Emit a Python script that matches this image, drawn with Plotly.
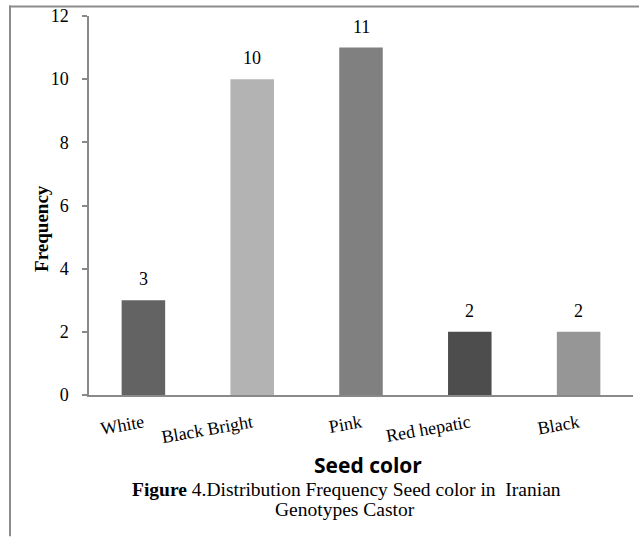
import plotly.graph_objects as go

categories = ["White", "Black Bright", "Pink", "Red hepatic", "Black"]
frequency = [3, 10, 11, 2, 2]
bar_colors = ["#636363", "#b3b3b3", "#808080", "#4d4d4d", "#969696"]
y_ticks = [0, 2, 4, 6, 8, 10, 12]

W, H = 639, 537
L, R, T, B = 89, 6, 14, 142
pw = W - L - R
ph = H - T - B

def px(x):
    return (x - L) / pw

def py(y):
    return (H - B - y) / ph

serif = "Liberation Serif, Times New Roman, serif"

fig = go.Figure()
fig.add_trace(go.Bar(
    x=categories, y=frequency,
    marker=dict(color=bar_colors, line=dict(width=0)),
    width=0.40,
    hoverinfo="x+y",
))

for c, v in zip(categories, frequency):
    fig.add_annotation(x=c, y=v, xref="x", yref="y", text=str(v),
                       showarrow=False, yshift=21,
                       font=dict(family=serif, size=18, color="#000"))

def paper_text(x, y, text, font, angle=0):
    fig.add_annotation(x=px(x), y=py(y), xref="paper", yref="paper",
                       xanchor="center", yanchor="middle",
                       text=text, textangle=angle, showarrow=False, font=font)

paper_text(42, 228, "<b>Frequency</b>",
           dict(family=serif, size=19, color="#000"), angle=-90)
paper_text(368, 465, "<b>Seed color</b>",
           dict(family="Open Sans, Arial, sans-serif", size=21, color="#000"))
paper_text(346, 490, "<b>Figure</b> 4.Distribution Frequency Seed color in \u00a0Iranian",
           dict(family=serif, size=19.5, color="#000"))
paper_text(345, 510, "Genotypes Castor",
           dict(family=serif, size=19.5, color="#000"))

# frame lines (top and left border of the figure image)
fig.add_shape(type="line", xref="paper", yref="paper", layer="above",
              x0=px(9), x1=px(639), y0=py(4.5), y1=py(4.5),
              line=dict(color="#8c8c8c", width=2))
fig.add_shape(type="line", xref="paper", yref="paper", layer="above",
              x0=px(10), x1=px(10), y0=py(3.5), y1=py(537),
              line=dict(color="#8c8c8c", width=2))

fig.update_layout(
    width=W, height=H,
    margin=dict(l=L, r=R, t=T, b=B),
    paper_bgcolor="white", plot_bgcolor="white",
    showlegend=False,
    bargap=0.6,
    xaxis=dict(
        range=[-0.5, 4.5],
        showline=True, linecolor="#898989", linewidth=1.5,
        ticks="", tickangle=-10, ticklabelstandoff=9,
        tickfont=dict(family=serif, size=18, color="#000"),
        showgrid=False, zeroline=False, fixedrange=True,
    ),
    yaxis=dict(
        range=[0, 12], tickvals=y_ticks,
        showline=True, linecolor="#898989", linewidth=1.5,
        ticks="outside", ticklen=5, tickcolor="#898989", tickwidth=1.5,
        ticklabelstandoff=10,
        tickfont=dict(family=serif, size=18, color="#000"),
        showgrid=False, zeroline=False, fixedrange=True,
    ),
)

fig.write_html("out.html", config={"displayModeBar": False},
               post_script="document.body.style.margin='0';")
